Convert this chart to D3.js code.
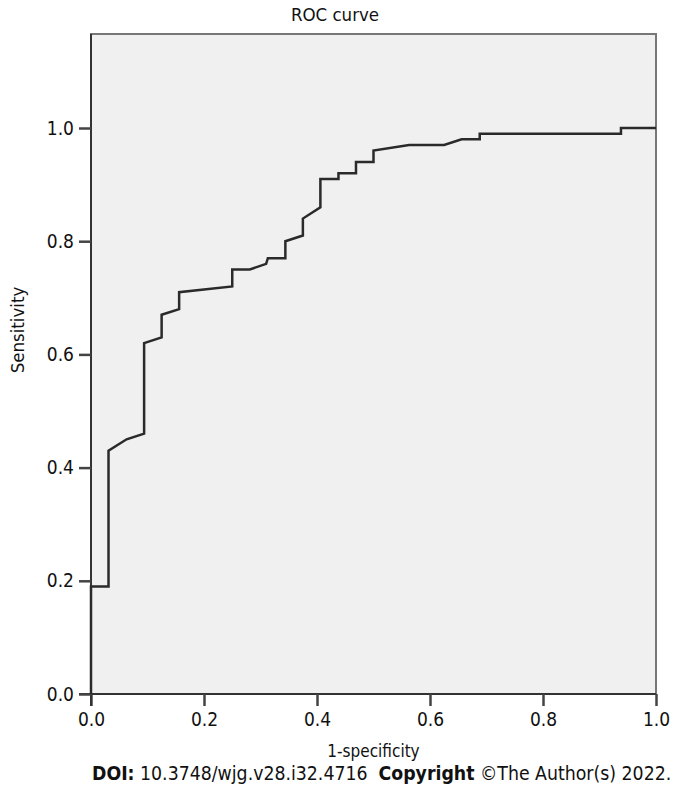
<!DOCTYPE html>
<html>
<head>
<meta charset="utf-8">
<script src="https://cdn.jsdelivr.net/npm/d3@7"></script>
<style>
  body { margin: 0; background: #fff; }
  text { font-family: 'DejaVu Sans Condensed', 'DejaVu Sans', sans-serif; fill: #111; }
</style>
</head>
<body>
<div class="container"></div>
<script>
// ROC curve points
const fpr = [0, 0, 0.031, 0.031, 0.063, 0.094, 0.094, 0.125, 0.125, 0.156, 0.156, 0.25, 0.25, 0.281,
  0.31, 0.313, 0.344, 0.344, 0.375, 0.375, 0.406, 0.406, 0.438, 0.438, 0.469, 0.469, 0.5, 0.5,
  0.563, 0.625, 0.656, 0.688, 0.688, 0.938, 0.938, 1]
const tpr = [0, 0.19, 0.19, 0.43, 0.45, 0.46, 0.62, 0.63, 0.67, 0.68, 0.71, 0.72, 0.75, 0.75,
  0.76, 0.77, 0.77, 0.80, 0.81, 0.84, 0.86, 0.91, 0.91, 0.92, 0.92, 0.94, 0.94, 0.96,
  0.97, 0.97, 0.98, 0.98, 0.99, 0.99, 1.0, 1.0]
const xTicks = [0, 0.2, 0.4, 0.6, 0.8, 1.0]
const yTicks = [0, 0.2, 0.4, 0.6, 0.8, 1.0]

const width = 680
const height = 796
const plotLeft = 91, plotRight = 656, plotTop = 34, plotBottom = 694
const fontStack = "'DejaVu Sans Condensed', 'DejaVu Sans', sans-serif"

const svg = d3.select('.container')
  .append('svg')
  .attr('width', width)
  .attr('height', height)

const xScale = d3.scaleLinear().domain([0, 1]).range([plotLeft, plotRight])
const yScale = d3.scaleLinear().domain([0, 1]).range([plotBottom, plotBottom - 566])

// plot area
svg.append('rect')
  .attr('x', plotLeft)
  .attr('y', plotTop)
  .attr('width', plotRight - plotLeft)
  .attr('height', plotBottom - plotTop)
  .attr('fill', '#f0f0f0')
  .attr('stroke', '#777')
  .attr('stroke-width', 2)

svg.append('text')
  .attr('x', 335)
  .attr('y', 21)
  .attr('text-anchor', 'middle')
  .attr('font-size', '18.5px')
  .text('ROC curve')

const xAxis = svg.append('g')
  .attr('transform', `translate(0, ${plotBottom})`)
  .call(d3.axisBottom(xScale).tickValues(xTicks).tickFormat(d3.format('.1f')).tickSize(12).tickPadding(7))
xAxis.select('.domain').attr('stroke', '#333').attr('stroke-width', 2)
  .attr('d', `M${plotLeft - 12},0H${plotRight}`)
xAxis.selectAll('.tick line').attr('stroke', '#444').attr('stroke-width', 2.5)
xAxis.selectAll('text').attr('font-size', '19px')
  .style('font-family', fontStack).attr('fill', '#111')

const yAxis = svg.append('g')
  .attr('transform', `translate(${plotLeft}, 0)`)
  .call(d3.axisLeft(yScale).tickValues(yTicks).tickFormat(d3.format('.1f')).tickSize(12).tickPadding(5))
yAxis.select('.domain').attr('stroke', '#333').attr('stroke-width', 2)
  .attr('d', `M0,${plotBottom + 12}V${plotTop}`)
yAxis.selectAll('.tick line').attr('stroke', '#444').attr('stroke-width', 2.5)
yAxis.selectAll('text').attr('font-size', '19px')
  .style('font-family', fontStack).attr('fill', '#111')

svg.append('text')
  .attr('transform', `translate(24, 330) rotate(-90)`)
  .attr('text-anchor', 'middle')
  .attr('font-size', '18.5px')
  .text('Sensitivity')

svg.append('text')
  .attr('x', (plotLeft + plotRight) / 2)
  .attr('y', 757)
  .attr('text-anchor', 'middle')
  .attr('font-size', '17px')
  .text('1-specificity')

const line = d3.line()
  .x((d) => xScale(d[0]))
  .y((d) => yScale(d[1]))

svg.append('path')
  .datum(fpr.map((f, i) => [f, tpr[i]]))
  .attr('d', line)
  .attr('fill', 'none')
  .attr('stroke', '#2a2a2a')
  .attr('stroke-width', 2.5)
  .attr('stroke-linejoin', 'miter')

const foot = svg.append('text')
  .attr('x', 92)
  .attr('y', 780)
  .attr('font-size', '19.3px')
  .attr('xml:space', 'preserve')
foot.append('tspan').attr('font-weight', 'bold').text('DOI:')
foot.append('tspan').text(' 10.3748/wjg.v28.i32.4716  ')
foot.append('tspan').attr('font-weight', 'bold').text('Copyright')
foot.append('tspan').text(' ©The Author(s) 2022.')
</script>
</body>
</html>
